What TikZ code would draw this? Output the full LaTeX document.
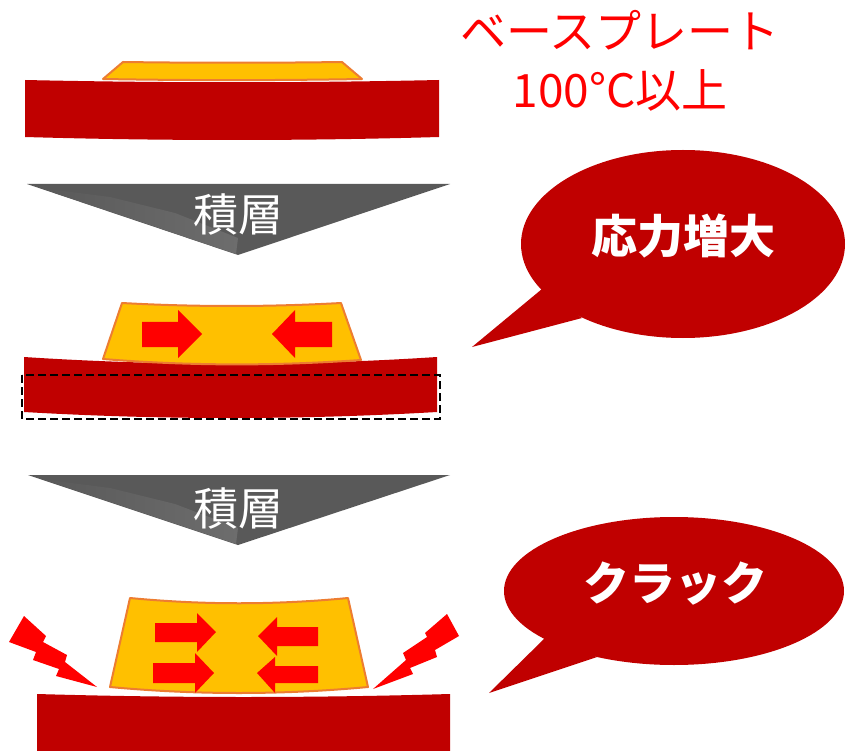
\documentclass[tikz,border=0pt]{standalone}
\usepackage{fontspec}
\newfontfamily\jp{Noto Sans CJK JP}
\begin{document}
\begin{tikzpicture}[x=1pt,y=-1pt,
  plate/.style={fill=basered},
  film/.style={fill=filmyellow,draw=filmedge,line width=2pt,line join=round},
  force/.style={fill=forcered},
  bolt/.style={fill=forcered},
  stepdown/.style={fill=stepgray},
  fold/.style={left color=stepgray,middle color=stepgray!72!white,right color=stepgray!88!white},
  bubble/.style={fill=basered},
  steplabel/.style={font=\jp\fontsize{45}{50}\selectfont,text=white,anchor=base,inner sep=0pt},
  bubblelabel/.style={font=\jp\bfseries\fontsize{46}{50}\selectfont,text=white,anchor=base,inner sep=0pt},
  notelabel/.style={font=\jp\fontsize{46}{50}\selectfont,text=forcered,anchor=base,inner sep=0pt}]
\definecolor{basered}{HTML}{C00000}
\definecolor{filmyellow}{HTML}{FFC000}
\definecolor{filmedge}{HTML}{ED7D31}
\definecolor{forcered}{HTML}{FF0000}
\definecolor{stepgray}{HTML}{595959}
\useasboundingbox (0,0) rectangle (846,751);

% ---------- base plate note ----------
\node[notelabel] (note1) at (620,49) {ベースプレート};
\node[notelabel] (note2) at (620,108) {100°C以上};

% ---------- initial state ----------
\fill[plate] (25,80) .. controls (163,83) and (301,83) .. (439,80)
  -- (439,137) .. controls (301,141) and (163,141) .. (25,137) -- cycle;
\draw[film] (103,79) -- (123,62) .. controls (196,63) and (269,63) .. (342,62)
  -- (362,79) .. controls (276,80.5) and (189,80.5) .. (103,79) -- cycle;

% ---------- first stacking step ----------
\fill[stepdown] (27,184) -- (450,184) -- (238,255) -- cycle;
\shade[fold] (40,188) -- (236,254) -- (238,238) -- (175,213) -- (110,197) -- cycle;
\node[steplabel] (step1) at (238,232) {積層};

% ---------- stressed state ----------
\fill[plate] (24,357) .. controls (162,366) and (299,366) .. (437,357)
  -- (437,412) .. controls (299,420) and (162,420) .. (24,412) -- cycle;
\draw[black,line width=1.8pt,dash pattern=on 8pt off 4pt] (22,375) rectangle (440,419);
\draw[film] (103,359) -- (122,303) .. controls (195,307) and (268,307) .. (341,303)
  -- (361,360) .. controls (275,366) and (189,366) .. (103,359) -- cycle;
\fill[force] (142,322) -- (178,322) -- (178,310) -- (202,334) -- (178,358) -- (178,347) -- (142,347) -- cycle;
\fill[force] (332,322) -- (295,322) -- (295,310) -- (272,334) -- (295,358) -- (295,347) -- (332,347) -- cycle;

% ---------- second stacking step ----------
\fill[stepdown] (28,475) -- (450,475) -- (238,545) -- cycle;
\shade[fold] (41,479) -- (236,544) -- (238,528) -- (175,504) -- (110,488) -- cycle;
\node[steplabel] (step2) at (238,525) {積層};

% ---------- cracked state ----------
\fill[plate] (37,694) .. controls (175,698) and (312,698) .. (450,694)
  -- (450,751) -- (37,751) -- cycle;
\draw[film] (110,687) -- (130,598) .. controls (203,605) and (275,605) .. (348,598)
  -- (368,687) .. controls (282,695) and (196,695) .. (110,687) -- cycle;
\fill[force] (155,623) -- (197,623) -- (197,613) -- (216,632) -- (197,652) -- (197,642) -- (155,642) -- cycle;
\fill[force] (153,663) -- (195,663) -- (195,653) -- (214,673) -- (195,693) -- (195,683) -- (153,683) -- cycle;
\fill[force] (318,627) -- (277,627) -- (277,617) -- (258,636) -- (277,656) -- (277,646) -- (318,646) -- cycle;
\fill[force] (318,666) -- (275,666) -- (275,657) -- (257,673) -- (275,693) -- (275,683) -- (318,683) -- cycle;

% lightning bolts
\fill[bolt] (24,616) -- (46,636) -- (43,642) -- (67,655) -- (65,662) -- (97,687)
  -- (56,676) -- (59,669) -- (33,660) -- (36,652) -- (9,642) -- cycle;
\fill[bolt] (447,614) -- (459,636) -- (435,650) -- (437,657) -- (410,668) -- (413,674)
  -- (373,689) -- (406,660) -- (403,653) -- (427,637) -- (425,633) -- cycle;

% ---------- speech bubbles ----------
\fill[bubble] (683,244) ellipse [x radius=162pt, y radius=94pt];
\fill[bubble] (542,289) -- (472,347) -- (582,318) -- cycle;
\node[bubblelabel] (bubble1) at (683,254) {応力増大};

\fill[bubble] (674,591) ellipse [x radius=170pt, y radius=74pt];
\fill[bubble] (545,638) -- (489,693) -- (597,657) -- cycle;
\node[bubblelabel] (bubble2) at (675,600) {クラック};
\end{tikzpicture}
\end{document}
